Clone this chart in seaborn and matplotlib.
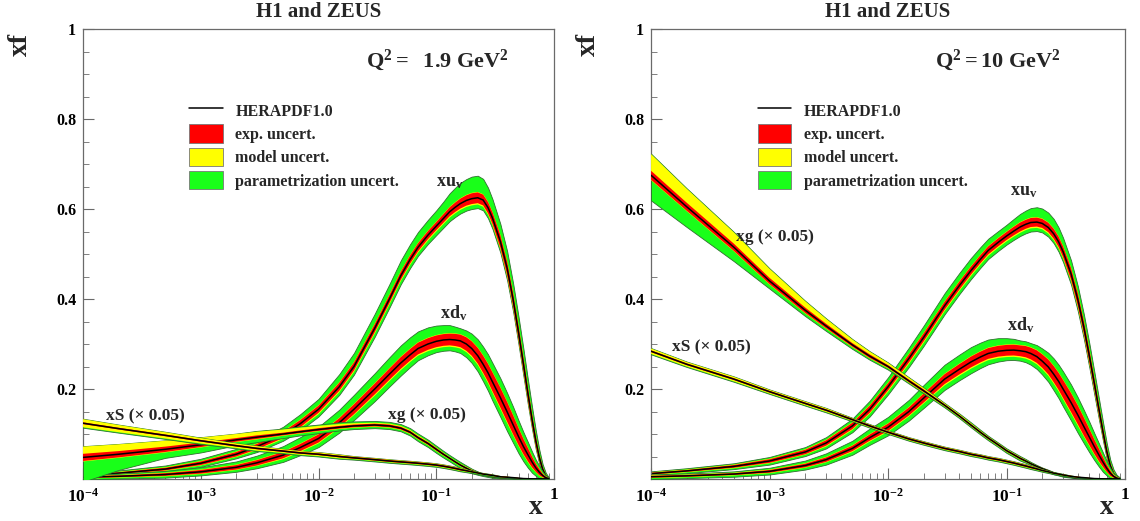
import numpy as np
import matplotlib
matplotlib.use("Agg")
import matplotlib.pyplot as plt
import seaborn as sns
from matplotlib.lines import Line2D
from matplotlib.patches import Patch
from matplotlib.ticker import FixedLocator, FixedFormatter, LogLocator, MultipleLocator, NullFormatter

# ---------------- data ----------------
X = [1e-4, 2e-4, 5e-4, 1e-3, 2e-3, 3e-3, 5e-3, 7e-3, 0.01, 0.015, 0.02, 0.03,
     0.04, 0.05, 0.06, 0.07, 0.085, 0.1, 0.115, 0.13, 0.145, 0.16, 0.18, 0.2, 0.225, 0.25, 0.275,
     0.3, 0.35, 0.4, 0.45, 0.5, 0.55, 0.6, 0.65, 0.7, 0.75, 0.8, 0.85, 0.9]

XTICKS = [1e-4, 1e-3, 1e-2, 1e-1, 1]
XTICK_LABELS = [r"$10^{-4}$", r"$10^{-3}$", r"$10^{-2}$", r"$10^{-1}$", "1"]
YTICKS = [0.2, 0.4, 0.6, 0.8, 1.0]
YTICK_LABELS = ["0.2", "0.4", "0.6", "0.8", "1"]

TITLES = ["H1 and ZEUS", "H1 and ZEUS"]
Q2_LABELS = [r"$\mathrm{Q^2 =\ \ 1.9\ GeV^2}$", r"$\mathrm{Q^2 = 10\ GeV^2}$"]
LEGEND_LABELS = ["HERAPDF1.0", "exp. uncert.", "model uncert.", "parametrization uncert."]
CURVE_LABELS = [r"$\mathrm{xu_v}$", r"$\mathrm{xd_v}$", "xg (× 0.05)", "xS (× 0.05)"]

BAND_TINY = [0.001, 0.001, 0.001, 0.001, 0.001, 0.001, 0.001, 0.001, 0.001, 0.001, 0.001, 0.001,
             0.001, 0.001, 0.001, 0.001, 0.001, 0.001, 0.001, 0.001, 0.001, 0.001, 0.001, 0.001, 0.001, 0.001, 0.001,
             0.001, 0.001, 0.001, 0.001, 0.001, 0.001, 0.001, 0.001, 0.001, 0.001, 0.001, 0.001, 0.001]

# ----- Q2 = 1.9 GeV2 -----
UV_1 = [0.008, 0.013, 0.022, 0.035, 0.055, 0.072, 0.098, 0.123, 0.155, 0.205, 0.250, 0.335,
        0.400, 0.452, 0.488, 0.515, 0.542, 0.562, 0.579, 0.594, 0.604, 0.612, 0.619, 0.623, 0.625, 0.620, 0.603,
        0.580, 0.528, 0.468, 0.398, 0.325, 0.255, 0.190, 0.133, 0.085, 0.048, 0.022, 0.007, 0.001]
UV_1_EXP = [0.002, 0.002, 0.003, 0.004, 0.005, 0.006, 0.007, 0.008, 0.008, 0.009, 0.009, 0.009,
            0.009, 0.009, 0.009, 0.009, 0.009, 0.009, 0.0095, 0.010, 0.0105, 0.011, 0.0115, 0.012, 0.012, 0.012, 0.0125,
            0.013, 0.014, 0.015, 0.015, 0.015, 0.015, 0.014, 0.013, 0.011, 0.008, 0.005, 0.003, 0.001]
UV_1_MOD_LO = [0.001, 0.001, 0.001, 0.001, 0.001, 0.002, 0.002, 0.002, 0.003, 0.003, 0.003, 0.003,
               0.003, 0.003, 0.003, 0.003, 0.003, 0.003, 0.003, 0.003, 0.003, 0.003, 0.003, 0.003, 0.003, 0.003, 0.003,
               0.003, 0.003, 0.003, 0.003, 0.003, 0.003, 0.003, 0.002, 0.002, 0.002, 0.001, 0.001, 0.001]
UV_1_PAR_LO = [0.002, 0.002, 0.002, 0.003, 0.003, 0.004, 0.004, 0.005, 0.005, 0.006, 0.006, 0.007,
               0.007, 0.007, 0.007, 0.007, 0.0075, 0.008, 0.008, 0.008, 0.008, 0.008, 0.008, 0.008, 0.008, 0.008, 0.008,
               0.008, 0.008, 0.009, 0.009, 0.009, 0.009, 0.008, 0.007, 0.006, 0.005, 0.003, 0.002, 0.001]
UV_1_PAR_HI = [0.003, 0.003, 0.004, 0.005, 0.006, 0.008, 0.010, 0.012, 0.014, 0.018, 0.020, 0.022,
               0.023, 0.024, 0.024, 0.024, 0.024, 0.025, 0.027, 0.030, 0.032, 0.034, 0.035, 0.036, 0.036, 0.034, 0.031,
               0.028, 0.024, 0.022, 0.020, 0.019, 0.018, 0.016, 0.014, 0.011, 0.008, 0.005, 0.003, 0.001]

DV_1 = [0.004, 0.006, 0.010, 0.016, 0.026, 0.036, 0.053, 0.070, 0.090, 0.125, 0.155, 0.200,
        0.233, 0.258, 0.276, 0.290, 0.300, 0.306, 0.309, 0.310, 0.309, 0.307, 0.300, 0.290, 0.274, 0.255, 0.236,
        0.216, 0.181, 0.149, 0.120, 0.094, 0.072, 0.054, 0.038, 0.025, 0.015, 0.008, 0.003, 0.001]
DV_1_EXP = [0.002, 0.002, 0.003, 0.004, 0.005, 0.006, 0.007, 0.008, 0.009, 0.010, 0.011, 0.012,
            0.0125, 0.013, 0.013, 0.013, 0.013, 0.013, 0.013, 0.013, 0.0135, 0.014, 0.015, 0.016, 0.0175, 0.019, 0.020,
            0.021, 0.022, 0.022, 0.021, 0.019, 0.017, 0.015, 0.012, 0.009, 0.007, 0.004, 0.002, 0.001]
DV_1_MOD_LO = [0.001, 0.001, 0.001, 0.001, 0.001, 0.001, 0.002, 0.002, 0.002, 0.002, 0.002, 0.003,
               0.003, 0.003, 0.003, 0.003, 0.003, 0.003, 0.003, 0.003, 0.003, 0.003, 0.003, 0.003, 0.003, 0.003, 0.003,
               0.003, 0.003, 0.003, 0.002, 0.002, 0.002, 0.002, 0.002, 0.001, 0.001, 0.001, 0.001, 0.001]
DV_1_PAR_LO = [0.002, 0.002, 0.003, 0.003, 0.004, 0.005, 0.006, 0.007, 0.008, 0.010, 0.011, 0.012,
               0.012, 0.012, 0.011, 0.010, 0.009, 0.008, 0.008, 0.008, 0.009, 0.010, 0.0115, 0.013, 0.0145, 0.016, 0.017,
               0.018, 0.018, 0.018, 0.017, 0.016, 0.014, 0.012, 0.010, 0.008, 0.006, 0.004, 0.002, 0.001]
DV_1_PAR_HI = [0.002, 0.003, 0.004, 0.005, 0.007, 0.009, 0.012, 0.014, 0.016, 0.018, 0.020, 0.022,
               0.024, 0.025, 0.025, 0.024, 0.023, 0.021, 0.019, 0.018, 0.015, 0.013, 0.014, 0.016, 0.018, 0.019, 0.020,
               0.020, 0.020, 0.019, 0.018, 0.016, 0.014, 0.012, 0.010, 0.008, 0.006, 0.004, 0.002, 0.001]

G_1 = [0.048, 0.055, 0.066, 0.076, 0.087, 0.093, 0.100, 0.105, 0.110, 0.115, 0.118, 0.120,
       0.118, 0.113, 0.104, 0.092, 0.079, 0.066, 0.055, 0.046, 0.038, 0.031, 0.024, 0.018, 0.013, 0.009, 0.007,
       0.005, 0.003, 0.002, 0.001, 0.0005, 0.0003, 0.0002, 0.0001, 0.0, 0.0, 0.0, 0.0, 0.0]
G_1_EXP = [0.008, 0.007, 0.006, 0.005, 0.004, 0.004, 0.003, 0.003, 0.003, 0.003, 0.003, 0.003,
           0.003, 0.003, 0.003, 0.003, 0.003, 0.003, 0.0025, 0.002, 0.002, 0.002, 0.002, 0.002, 0.0015, 0.001, 0.001,
           0.001, 0.001, 0.0005, 0.0005, 0.0003, 0.0002, 0.0001, 0.0, 0.0, 0.0, 0.0, 0.0, 0.0]
G_1_MOD_LO = [0.001, 0.001, 0.001, 0.001, 0.001, 0.001, 0.001, 0.001, 0.001, 0.001, 0.001, 0.001,
              0.001, 0.001, 0.001, 0.001, 0.001, 0.001, 0.001, 0.001, 0.001, 0.001, 0.001, 0.001, 0.0007, 0.0005, 0.0005,
              0.0005, 0.0003, 0.0002, 0.0001, 0.0, 0.0, 0.0, 0.0, 0.0, 0.0, 0.0, 0.0, 0.0]
G_1_MOD_HI = [0.016, 0.015, 0.013, 0.011, 0.009, 0.008, 0.007, 0.006, 0.005, 0.004, 0.003, 0.002,
              0.002, 0.002, 0.002, 0.002, 0.0015, 0.001, 0.001, 0.001, 0.001, 0.001, 0.001, 0.001, 0.0007, 0.0005, 0.0005,
              0.0005, 0.0003, 0.0002, 0.0001, 0.0, 0.0, 0.0, 0.0, 0.0, 0.0, 0.0, 0.0, 0.0]
G_1_PAR_LO = [0.045, 0.027, 0.012, 0.011, 0.007, 0.006, 0.005, 0.004, 0.004, 0.003, 0.003, 0.003,
              0.003, 0.003, 0.0035, 0.004, 0.004, 0.004, 0.004, 0.004, 0.004, 0.004, 0.003, 0.002, 0.0015, 0.001, 0.001,
              0.001, 0.0005, 0.0003, 0.0002, 0.0001, 0.0, 0.0, 0.0, 0.0, 0.0, 0.0, 0.0, 0.0]
G_1_PAR_HI = [0.001, 0.001, 0.001, 0.001, 0.001, 0.002, 0.002, 0.003, 0.003, 0.004, 0.004, 0.004,
              0.004, 0.004, 0.004, 0.004, 0.004, 0.004, 0.004, 0.004, 0.004, 0.004, 0.003, 0.002, 0.0015, 0.001, 0.001,
              0.001, 0.0005, 0.0003, 0.0002, 0.0001, 0.0, 0.0, 0.0, 0.0, 0.0, 0.0, 0.0, 0.0]

S_1 = [0.124, 0.112, 0.097, 0.085, 0.074, 0.068, 0.062, 0.058, 0.055, 0.050, 0.047, 0.043,
       0.040, 0.038, 0.0365, 0.035, 0.033, 0.031, 0.0285, 0.026, 0.0235, 0.021, 0.0185, 0.016, 0.0135, 0.011, 0.0095,
       0.008, 0.005, 0.004, 0.003, 0.002, 0.001, 0.0007, 0.0004, 0.0002, 0.0001, 0.0, 0.0, 0.0]
S_1_EXP = [0.002, 0.002, 0.002, 0.002, 0.002, 0.002, 0.002, 0.002, 0.002, 0.002, 0.002, 0.002,
           0.002, 0.002, 0.002, 0.002, 0.002, 0.002, 0.002, 0.002, 0.002, 0.002, 0.0015, 0.001, 0.001, 0.001, 0.001,
           0.001, 0.001, 0.001, 0.0005, 0.0005, 0.0003, 0.0002, 0.0001, 0.0, 0.0, 0.0, 0.0, 0.0]
S_1_MOD = [0.007, 0.006, 0.005, 0.004, 0.003, 0.003, 0.002, 0.002, 0.002, 0.002, 0.001, 0.001,
           0.001, 0.001, 0.001, 0.001, 0.001, 0.001, 0.001, 0.001, 0.001, 0.001, 0.001, 0.001, 0.0007, 0.0005, 0.0005,
           0.0005, 0.0003, 0.0002, 0.0001, 0.0, 0.0, 0.0, 0.0, 0.0, 0.0, 0.0, 0.0, 0.0]
S_1_PAR = [0.001, 0.001, 0.001, 0.001, 0.001, 0.001, 0.001, 0.001, 0.001, 0.001, 0.001, 0.001,
           0.001, 0.001, 0.001, 0.001, 0.001, 0.001, 0.001, 0.001, 0.001, 0.001, 0.001, 0.001, 0.001, 0.001, 0.001,
           0.001, 0.0005, 0.0003, 0.0002, 0.0001, 0.0, 0.0, 0.0, 0.0, 0.0, 0.0, 0.0, 0.0]

# ----- Q2 = 10 GeV2 -----
UV_2 = [0.012, 0.018, 0.028, 0.040, 0.060, 0.080, 0.118, 0.155, 0.205, 0.268, 0.315, 0.385,
        0.430, 0.463, 0.488, 0.508, 0.526, 0.540, 0.551, 0.560, 0.566, 0.570, 0.571, 0.568, 0.559, 0.545, 0.527,
        0.505, 0.456, 0.398, 0.336, 0.273, 0.213, 0.157, 0.106, 0.062, 0.030, 0.012, 0.004, 0.001]
UV_2_EXP = [0.002, 0.002, 0.003, 0.004, 0.005, 0.006, 0.007, 0.008, 0.008, 0.009, 0.009, 0.009,
            0.009, 0.009, 0.009, 0.009, 0.009, 0.009, 0.0095, 0.010, 0.010, 0.010, 0.010, 0.010, 0.0105, 0.011, 0.0115,
            0.012, 0.013, 0.014, 0.014, 0.014, 0.013, 0.012, 0.011, 0.009, 0.006, 0.004, 0.002, 0.001]
UV_2_MOD_LO = [0.001, 0.001, 0.001, 0.001, 0.001, 0.002, 0.002, 0.002, 0.003, 0.003, 0.003, 0.003,
               0.003, 0.003, 0.003, 0.003, 0.003, 0.003, 0.003, 0.003, 0.003, 0.003, 0.003, 0.003, 0.003, 0.003, 0.003,
               0.003, 0.003, 0.003, 0.003, 0.003, 0.003, 0.003, 0.002, 0.002, 0.002, 0.001, 0.001, 0.001]
UV_2_PAR_LO = [0.002, 0.002, 0.002, 0.003, 0.003, 0.004, 0.005, 0.006, 0.006, 0.007, 0.007, 0.007,
               0.007, 0.007, 0.007, 0.007, 0.007, 0.007, 0.007, 0.007, 0.007, 0.007, 0.007, 0.007, 0.007, 0.007, 0.0075,
               0.008, 0.008, 0.009, 0.009, 0.009, 0.009, 0.008, 0.007, 0.006, 0.004, 0.003, 0.002, 0.001]
UV_2_PAR_HI = [0.002, 0.003, 0.003, 0.004, 0.005, 0.006, 0.008, 0.010, 0.012, 0.014, 0.016, 0.018,
               0.018, 0.018, 0.017, 0.016, 0.015, 0.015, 0.0165, 0.018, 0.0195, 0.021, 0.022, 0.022, 0.0215, 0.021, 0.0195,
               0.018, 0.016, 0.015, 0.014, 0.013, 0.012, 0.011, 0.010, 0.008, 0.006, 0.004, 0.002, 0.001]

DV_2 = [0.005, 0.007, 0.011, 0.017, 0.030, 0.043, 0.068, 0.092, 0.115, 0.150, 0.180, 0.222,
        0.244, 0.260, 0.271, 0.279, 0.284, 0.286, 0.2865, 0.285, 0.283, 0.279, 0.272, 0.262, 0.249, 0.233, 0.217,
        0.200, 0.170, 0.142, 0.116, 0.093, 0.072, 0.054, 0.038, 0.024, 0.013, 0.006, 0.002, 0.0005]
DV_2_EXP = [0.002, 0.002, 0.002, 0.003, 0.004, 0.005, 0.006, 0.007, 0.008, 0.009, 0.010, 0.011,
            0.0115, 0.012, 0.012, 0.012, 0.012, 0.012, 0.012, 0.012, 0.0125, 0.013, 0.014, 0.015, 0.0165, 0.018, 0.019,
            0.020, 0.021, 0.021, 0.020, 0.018, 0.016, 0.014, 0.011, 0.008, 0.006, 0.003, 0.002, 0.001]
DV_2_MOD_LO = [0.001, 0.001, 0.001, 0.001, 0.001, 0.001, 0.002, 0.002, 0.002, 0.002, 0.002, 0.003,
               0.003, 0.003, 0.003, 0.003, 0.003, 0.003, 0.003, 0.003, 0.003, 0.003, 0.003, 0.003, 0.003, 0.003, 0.003,
               0.003, 0.003, 0.003, 0.002, 0.002, 0.002, 0.002, 0.002, 0.001, 0.001, 0.001, 0.001, 0.001]
DV_2_PAR_LO = [0.002, 0.002, 0.003, 0.003, 0.004, 0.005, 0.006, 0.007, 0.008, 0.009, 0.010, 0.010,
               0.010, 0.010, 0.0095, 0.009, 0.008, 0.007, 0.007, 0.007, 0.008, 0.009, 0.0105, 0.012, 0.0135, 0.015, 0.0155,
               0.016, 0.016, 0.016, 0.015, 0.014, 0.012, 0.010, 0.009, 0.007, 0.005, 0.003, 0.002, 0.001]
DV_2_PAR_HI = [0.002, 0.002, 0.003, 0.004, 0.006, 0.008, 0.010, 0.012, 0.014, 0.016, 0.018, 0.020,
               0.020, 0.020, 0.019, 0.018, 0.016, 0.014, 0.012, 0.010, 0.0095, 0.009, 0.0105, 0.012, 0.014, 0.016, 0.017,
               0.018, 0.018, 0.017, 0.016, 0.015, 0.013, 0.011, 0.009, 0.007, 0.005, 0.003, 0.002, 0.001]

G_2 = [0.675, 0.605, 0.515, 0.440, 0.375, 0.340, 0.298, 0.273, 0.250, 0.218, 0.196, 0.164,
       0.140, 0.120, 0.104, 0.091, 0.076, 0.063, 0.054, 0.046, 0.040, 0.034, 0.028, 0.023, 0.018, 0.013, 0.010,
       0.007, 0.004, 0.002, 0.001, 0.0005, 0.0002, 0.0001, 0.0, 0.0, 0.0, 0.0, 0.0, 0.0]
G_2_EXP = [0.010, 0.009, 0.008, 0.007, 0.006, 0.005, 0.004, 0.004, 0.003, 0.003, 0.003, 0.002,
           0.002, 0.002, 0.002, 0.002, 0.002, 0.002, 0.002, 0.002, 0.0015, 0.001, 0.001, 0.001, 0.001, 0.001, 0.001,
           0.001, 0.0005, 0.0003, 0.0002, 0.0001, 0.0, 0.0, 0.0, 0.0, 0.0, 0.0, 0.0, 0.0]
G_2_MOD_LO = [0.001, 0.001, 0.001, 0.001, 0.001, 0.001, 0.001, 0.001, 0.001, 0.001, 0.001, 0.001,
              0.001, 0.001, 0.001, 0.001, 0.001, 0.001, 0.001, 0.001, 0.001, 0.001, 0.001, 0.001, 0.0007, 0.0005, 0.0005,
              0.0005, 0.0003, 0.0002, 0.0001, 0.0, 0.0, 0.0, 0.0, 0.0, 0.0, 0.0, 0.0, 0.0]
G_2_MOD_HI = [0.037, 0.031, 0.025, 0.020, 0.014, 0.011, 0.008, 0.006, 0.005, 0.004, 0.003, 0.002,
              0.002, 0.002, 0.0015, 0.001, 0.001, 0.001, 0.001, 0.001, 0.001, 0.001, 0.0007, 0.0005, 0.0005, 0.0005, 0.0004,
              0.0003, 0.0002, 0.0001, 0.0, 0.0, 0.0, 0.0, 0.0, 0.0, 0.0, 0.0, 0.0, 0.0]
G_2_PAR_LO = [0.045, 0.035, 0.022, 0.009, 0.006, 0.005, 0.004, 0.003, 0.003, 0.002, 0.002, 0.002,
              0.002, 0.002, 0.002, 0.002, 0.002, 0.002, 0.002, 0.002, 0.0015, 0.001, 0.001, 0.001, 0.001, 0.001, 0.0007,
              0.0005, 0.0003, 0.0002, 0.0001, 0.0, 0.0, 0.0, 0.0, 0.0, 0.0, 0.0, 0.0, 0.0]
G_2_PAR_HI = [0.001, 0.001, 0.001, 0.001, 0.001, 0.001, 0.001, 0.001, 0.001, 0.001, 0.001, 0.001,
              0.0015, 0.002, 0.002, 0.002, 0.002, 0.002, 0.002, 0.002, 0.002, 0.002, 0.0015, 0.001, 0.001, 0.001, 0.001,
              0.001, 0.0005, 0.0003, 0.0002, 0.0001, 0.0, 0.0, 0.0, 0.0, 0.0, 0.0, 0.0, 0.0]

S_2 = [0.284, 0.255, 0.222, 0.194, 0.168, 0.153, 0.132, 0.118, 0.104, 0.089, 0.080, 0.068,
       0.061, 0.055, 0.051, 0.047, 0.043, 0.039, 0.0355, 0.032, 0.029, 0.026, 0.0225, 0.019, 0.016, 0.013, 0.011,
       0.009, 0.006, 0.004, 0.003, 0.002, 0.001, 0.0007, 0.0004, 0.0002, 0.0001, 0.0, 0.0, 0.0]
S_2_EXP = [0.002, 0.002, 0.002, 0.002, 0.002, 0.002, 0.002, 0.002, 0.002, 0.002, 0.002, 0.002,
           0.002, 0.002, 0.002, 0.002, 0.002, 0.002, 0.002, 0.002, 0.002, 0.002, 0.0015, 0.001, 0.001, 0.001, 0.001,
           0.001, 0.001, 0.001, 0.0005, 0.0005, 0.0003, 0.0002, 0.0001, 0.0, 0.0, 0.0, 0.0, 0.0]
S_2_MOD = [0.004, 0.003, 0.003, 0.002, 0.002, 0.002, 0.001, 0.001, 0.001, 0.001, 0.001, 0.001,
           0.001, 0.001, 0.001, 0.001, 0.001, 0.001, 0.001, 0.001, 0.001, 0.001, 0.001, 0.001, 0.0007, 0.0005, 0.0005,
           0.0005, 0.0003, 0.0002, 0.0001, 0.0, 0.0, 0.0, 0.0, 0.0, 0.0, 0.0, 0.0, 0.0]
S_2_PAR = [0.001, 0.001, 0.001, 0.001, 0.001, 0.001, 0.001, 0.001, 0.001, 0.001, 0.001, 0.001,
           0.001, 0.001, 0.001, 0.001, 0.001, 0.001, 0.001, 0.001, 0.001, 0.001, 0.001, 0.001, 0.001, 0.001, 0.001,
           0.001, 0.0005, 0.0003, 0.0002, 0.0001, 0.0, 0.0, 0.0, 0.0, 0.0, 0.0, 0.0, 0.0]

# ---------------- style ----------------
RED = "#ff0000"
YELLOW = "#ffff00"
GREEN = "#19ff19"
GREEN_EDGE = "#2f6f2f"
FRAME = "#6a6a6a"

sns.set_theme(style="white")
plt.rcParams["font.family"] = ["Liberation Serif", "DejaVu Serif"]
plt.rcParams["font.weight"] = "bold"
plt.rcParams["mathtext.fontset"] = "custom"
plt.rcParams["mathtext.rm"] = "Liberation Serif:bold"
plt.rcParams["mathtext.it"] = "Liberation Serif:italic:bold"
plt.rcParams["mathtext.bf"] = "Liberation Serif:bold"
plt.rcParams["mathtext.default"] = "rm"

fig = plt.figure(figsize=(11.4, 5.21), dpi=100)
ax1 = fig.add_axes([0.0728, 0.0806, 0.4132, 0.8637])
ax2 = fig.add_axes([0.5711, 0.0806, 0.4158, 0.8637])


def draw_pdf(ax, c, exp, mlo, mhi, plo, phi, z):
    x = np.asarray(X)
    c = np.asarray(c)
    red_lo = c - np.asarray(exp)
    red_hi = c + np.asarray(exp)
    yel_lo = red_lo - np.asarray(mlo)
    yel_hi = red_hi + np.asarray(mhi)
    grn_lo = yel_lo - np.asarray(plo)
    grn_hi = yel_hi + np.asarray(phi)
    ax.fill_between(x, grn_lo, grn_hi, facecolor=GREEN, edgecolor=GREEN_EDGE, linewidth=0.6, zorder=z)
    ax.fill_between(x, yel_lo, yel_hi, facecolor=YELLOW, edgecolor="none", linewidth=0, zorder=z + 0.1)
    ax.fill_between(x, red_lo, red_hi, facecolor=RED, edgecolor="none", linewidth=0, zorder=z + 0.2)
    sns.lineplot(x=x, y=c, ax=ax, color="black", linewidth=1.1, zorder=z + 0.3,
                 sort=False, estimator=None, legend=False)


panels = [
    (ax1, [(UV_1, UV_1_EXP, UV_1_MOD_LO, BAND_TINY, UV_1_PAR_LO, UV_1_PAR_HI),
           (DV_1, DV_1_EXP, DV_1_MOD_LO, BAND_TINY, DV_1_PAR_LO, DV_1_PAR_HI),
           (G_1, G_1_EXP, G_1_MOD_LO, G_1_MOD_HI, G_1_PAR_LO, G_1_PAR_HI),
           (S_1, S_1_EXP, S_1_MOD, S_1_MOD, S_1_PAR, S_1_PAR)]),
    (ax2, [(UV_2, UV_2_EXP, UV_2_MOD_LO, BAND_TINY, UV_2_PAR_LO, UV_2_PAR_HI),
           (DV_2, DV_2_EXP, DV_2_MOD_LO, BAND_TINY, DV_2_PAR_LO, DV_2_PAR_HI),
           (G_2, G_2_EXP, G_2_MOD_LO, G_2_MOD_HI, G_2_PAR_LO, G_2_PAR_HI),
           (S_2, S_2_EXP, S_2_MOD, S_2_MOD, S_2_PAR, S_2_PAR)]),
]

for ax, curves in panels:
    for k, cur in enumerate(curves):
        draw_pdf(ax, *cur, z=2 + k)

    ax.set_xscale("log")
    ax.set_xlim(1e-4, 1)
    ax.set_ylim(0, 1)
    ax.set_xlabel("")
    ax.set_ylabel("")
    ax.xaxis.set_major_locator(FixedLocator(XTICKS))
    ax.xaxis.set_major_formatter(FixedFormatter(XTICK_LABELS))
    ax.xaxis.set_minor_locator(LogLocator(base=10, subs=(2, 3, 4, 5, 6, 7, 8, 9), numticks=20))
    ax.xaxis.set_minor_formatter(NullFormatter())
    ax.yaxis.set_major_locator(FixedLocator(YTICKS))
    ax.yaxis.set_major_formatter(FixedFormatter(YTICK_LABELS))
    ax.yaxis.set_minor_locator(MultipleLocator(0.05))
    ax.tick_params(which="both", direction="in", color=FRAME, labelcolor="black",
                   bottom=True, left=True, top=False, right=False)
    ax.tick_params(which="major", length=8, width=0.8)
    ax.tick_params(which="minor", length=4, width=0.6)
    ax.tick_params(axis="x", pad=6, labelsize=12.5)
    ax.tick_params(axis="y", pad=5, labelsize=11.5)
    for lab in ax.get_xticklabels() + ax.get_yticklabels():
        lab.set_fontweight("bold")
    for sp in ax.spines.values():
        sp.set_visible(True)
        sp.set_color(FRAME)
        sp.set_linewidth(0.9)
    ax.grid(False)

    ax.text(-0.133, 0.966, "xf", transform=ax.transAxes, rotation=90, ha="center", va="center",
            fontsize=20, fontweight="bold")
    ax.text(0.962, -0.064, "x", transform=ax.transAxes, ha="center", va="center",
            fontsize=20, fontweight="bold")

    handles = [Line2D([0], [0], color="black", lw=1.1),
               Patch(facecolor=RED, edgecolor="#777777", linewidth=0.6),
               Patch(facecolor=YELLOW, edgecolor="#777777", linewidth=0.6),
               Patch(facecolor=GREEN, edgecolor="#777777", linewidth=0.6)]
    ax.legend(handles, LEGEND_LABELS, loc="upper left", bbox_to_anchor=(0.225, 0.84),
              frameon=False, borderpad=0, borderaxespad=0, handlelength=2.1, handleheight=1.4,
              handletextpad=0.8, labelspacing=0.3,
              prop={"family": "Liberation Serif", "weight": "bold", "size": 11.5})

for ax, title, q2 in [(ax1, TITLES[0], Q2_LABELS[0]), (ax2, TITLES[1], Q2_LABELS[1])]:
    ax.text(0.5, 1.038, title, transform=ax.transAxes, ha="center", va="center",
            fontsize=15, fontweight="bold")
    ax.text(0.60, 0.93, q2, transform=ax.transAxes, ha="left", va="center", fontsize=16)

# curve labels, panel 1
ax1.text(0.131, 0.66, CURVE_LABELS[0], ha="center", va="center", fontsize=13, zorder=10)
ax1.text(0.142, 0.369, CURVE_LABELS[1], ha="center", va="center", fontsize=13, zorder=10)
ax1.text(0.083, 0.142, CURVE_LABELS[2], ha="center", va="center", fontsize=12.5, fontweight="bold", zorder=10)
ax1.text(3.4e-4, 0.14, CURVE_LABELS[3], ha="center", va="center", fontsize=12.5, fontweight="bold", zorder=10)
# curve labels, panel 2
ax2.text(0.14, 0.64, CURVE_LABELS[0], ha="center", va="center", fontsize=13, zorder=10)
ax2.text(0.132, 0.342, CURVE_LABELS[1], ha="center", va="center", fontsize=13, zorder=10)
ax2.text(1.1e-3, 0.538, CURVE_LABELS[2], ha="center", va="center", fontsize=12.5, fontweight="bold", zorder=10)
ax2.text(3.2e-4, 0.293, CURVE_LABELS[3], ha="center", va="center", fontsize=12.5, fontweight="bold", zorder=10)

fig.savefig("out.png", dpi=100)
